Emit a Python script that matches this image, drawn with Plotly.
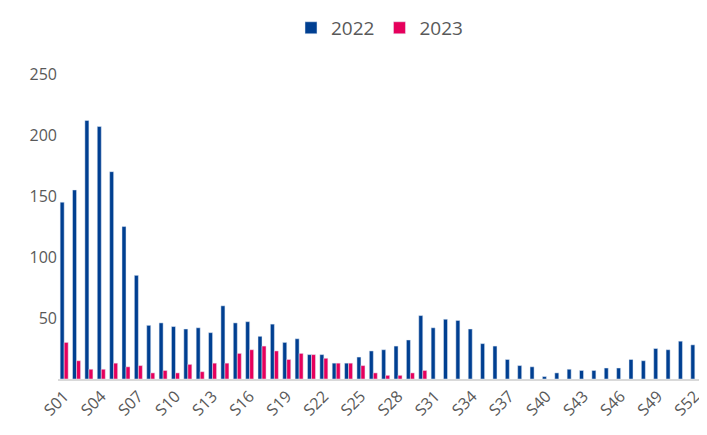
import plotly.graph_objects as go

weeks = ["S%02d" % i for i in range(1, 53)]
v2022 = [145, 155, 212, 207, 170, 125, 85, 44, 46, 43, 41, 42, 38, 60, 46, 47, 35, 45,
         30, 33, 20, 20, 13, 13, 18, 23, 24, 27, 32, 52, 42, 49, 48, 41, 29, 27, 16, 11,
         10, 2, 5, 8, 7, 7, 9, 9, 16, 15, 25, 24, 31, 28]
v2023 = [30, 15, 8, 8, 13, 10, 11, 5, 7, 5, 12, 6, 13, 13, 21, 24, 27, 23, 16, 21, 20,
         17, 13, 13, 11, 5, 3, 3, 5, 7]
tick_labels = weeks[::3]

fig = go.Figure()
fig.add_trace(go.Bar(x=weeks, y=v2022, name="2022", marker_color="#003f91"))
fig.add_trace(go.Bar(x=weeks[:len(v2023)], y=v2023, name="2023", marker_color="#e6005c"))

fig.update_layout(
    width=707, height=435,
    barmode="group", bargap=0.35, bargroupgap=0,
    plot_bgcolor="white", paper_bgcolor="white",
    font=dict(family="Open Sans, Liberation Sans, sans-serif", color="#595959", size=15),
    margin=dict(l=50, r=14, t=60, b=64, autoexpand=False),
    legend=dict(orientation="h", x=0.5, xanchor="center", y=1.19, yanchor="top",
                font=dict(size=19)),
    xaxis=dict(tickmode="array", tickvals=tick_labels, ticktext=tick_labels,
               tickangle=-45, showline=True, linecolor="#d9d9d9", linewidth=1.5,
               categoryorder="array", categoryarray=weeks, automargin=False,
               tickfont=dict(size=16)),
    yaxis=dict(range=[0, 255], tickvals=[50, 100, 150, 200, 250], showgrid=False,
               zeroline=False, automargin=False, tickfont=dict(size=16), ticksuffix="  "),
)
fig.write_html("out.html")
